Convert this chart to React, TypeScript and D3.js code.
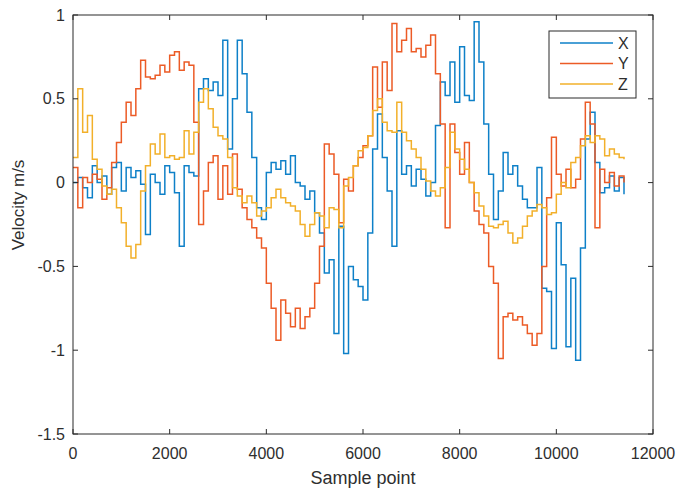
import React from "react";
import * as d3 from "d3";

const STEP = 100;
const xTicks = [0, 2000, 4000, 6000, 8000, 10000, 12000];
const yTicks = [1, 0.5, 0, -0.5, -1, -1.5];
const seriesNames = ["X", "Y", "Z"];
const seriesColors = ["#0E80C8", "#EC5B26", "#F2B02A"];

const xValues = [
  0.0, 0.03, -0.03, -0.09, 0.1, 0.0, 0.04, -0.07, 0.09, 0.12,
  -0.05, 0.09, 0.03, 0.07, -0.01, -0.31, 0.05, 0.0, -0.07, 0.1,
  0.06, -0.06, -0.38, 0.1, 0.06, 0.04, 0.56, 0.62, 0.55, 0.6,
  0.52, 0.85, 0.2, 0.5, 0.85, 0.65, 0.42, 0.15, -0.15, -0.22,
  0.06, 0.12, 0.08, 0.13, 0.05, 0.16, 0.0, -0.02, -0.1, -0.05,
  -0.18, -0.3, -0.54, -0.46, -0.9, -0.26, -1.02, -0.5, -0.58, -0.62,
  -0.7, -0.3, 0.2, 0.41, 0.15, -0.05, -0.38, 0.31, 0.05, 0.1,
  -0.02, 0.08, 0.02, -0.08, 0.0, 0.34, 0.6, 0.52, 0.72, 0.48,
  0.81, 0.52, 0.49, 0.96, 0.72, 0.35, 0.05, -0.22, -0.05, 0.18,
  0.05, 0.1, -0.02, -0.1, -0.15, -0.15, 0.09, -0.63, -0.65, -0.99,
  -0.24, -0.49, -0.98, -0.57, -1.06, -0.39, 0.26, 0.42, 0.12, -0.06,
  -0.03, 0.04, -0.05, 0.03, -0.07,
];

const yValues = [
  0.09, -0.15, 0.03, 0.0, 0.05, 0.02, -0.1, -0.03, 0.12, 0.24,
  0.36, 0.48, 0.4, 0.56, 0.73, 0.63, 0.62, 0.64, 0.7, 0.66,
  0.76, 0.78, 0.67, 0.72, 0.7, 0.36, -0.25, -0.05, 0.12, 0.16,
  -0.1, 0.1, -0.07, 0.17, -0.04, -0.15, -0.22, -0.27, -0.33, -0.39,
  -0.6, -0.75, -0.94, -0.7, -0.78, -0.86, -0.75, -0.87, -0.8, -0.75,
  -0.6, -0.38, 0.23, 0.17, 0.05, -0.24, 0.02, -0.05, 0.1, 0.15,
  0.22, 0.28, 0.69, 0.45, 0.72, 0.55, 0.95, 0.78, 0.85, 0.92,
  0.78, 0.8, 0.75, 0.82, 0.88, 0.65, 0.35, -0.27, 0.35, 0.18,
  0.05, 0.24, 0.0, -0.17, -0.25, -0.3, -0.5, -0.6, -1.05, -0.8,
  -0.78, -0.82, -0.8, -0.85, -0.9, -0.97, -0.9, -0.5, -0.09, 0.27,
  0.05, -0.02, 0.08, -0.03, 0.02, 0.26, 0.48, 0.35, -0.27, 0.08,
  0.0, 0.06, -0.02, 0.04, 0.0,
];

const zValues = [
  0.15, 0.56, 0.3, 0.4, 0.14, 0.08, -0.02, -0.07, -0.04, -0.15,
  -0.24, -0.38, -0.45, -0.37, -0.05, 0.1, 0.23, 0.17, 0.29, 0.15,
  0.16, 0.14, 0.15, 0.31, 0.17, 0.3, 0.48, 0.56, 0.44, 0.33,
  0.28, 0.26, 0.15, -0.03, -0.08, -0.12, -0.08, -0.12, -0.2, -0.17,
  -0.15, -0.09, -0.04, -0.09, -0.12, -0.14, -0.17, -0.25, -0.32, -0.25,
  -0.18, -0.2, -0.27, -0.15, -0.16, -0.27, -0.02, 0.03, 0.1, 0.19,
  0.21, 0.28, 0.43, 0.5, 0.36, 0.31, 0.3, 0.48, 0.3, 0.25,
  0.2, 0.15, 0.08, 0.01, -0.05, -0.08, -0.03, 0.09, 0.3, 0.2,
  0.14, 0.08, 0.0, -0.06, -0.14, -0.2, -0.26, -0.27, -0.25, -0.23,
  -0.3, -0.36, -0.33, -0.26, -0.2, -0.17, -0.13, -0.15, -0.19, -0.18,
  -0.07, 0.0, -0.03, 0.12, 0.15, 0.22, 0.28, 0.24, 0.28, 0.26,
  0.16, 0.2, 0.17, 0.15, 0.14,
];

const allSeries = [xValues, yValues, zValues];

const W = 683;
const H = 499;
const L = 73;
const R = 653;
const T = 15;
const B = 434;
const FONT = "Arial, 'Liberation Sans', Helvetica, sans-serif";
const AXIS = "#2b2b2b";
const TXT = "#2e2e2e";

export default function App() {
  const x = d3.scaleLinear().domain([0, 12000]).range([L, R]);
  const y = d3.scaleLinear().domain([-1.5, 1]).range([B, T]);
  const line = d3
    .line<number>()
    .x((_, i) => x(i * STEP))
    .y((d) => y(d))
    .curve(d3.curveStepAfter);

  return (
    <div style={{ position: "absolute", left: 0, top: 0 }}>
      <svg width={W} height={H} style={{ display: "block", background: "#fff" }}>
        <rect x={0} y={0} width={W} height={H} fill="#fff" />
        <defs>
          <clipPath id="plot">
            <rect x={L} y={T} width={R - L} height={B - T} />
          </clipPath>
        </defs>
        <g clipPath="url(#plot)">
          {allSeries.map((s, k) => (
            <path
              key={k}
              d={line(s) || ""}
              fill="none"
              stroke={seriesColors[k]}
              strokeWidth={1.5}
              strokeLinejoin="miter"
            />
          ))}
        </g>
        <rect x={L} y={T} width={R - L} height={B - T} fill="none" stroke={AXIS} strokeWidth={1} />
        {xTicks.map((t) => (
          <g key={"x" + t}>
            <line x1={x(t)} x2={x(t)} y1={B} y2={B - 5} stroke={AXIS} />
            <line x1={x(t)} x2={x(t)} y1={T} y2={T + 5} stroke={AXIS} />
            <text
              x={x(t)}
              y={453}
              textAnchor="middle"
              dominantBaseline="central"
              fontFamily={FONT}
              fontSize={16}
              fill={TXT}
            >
              {t}
            </text>
          </g>
        ))}
        {yTicks.map((t) => (
          <g key={"y" + t}>
            <line x1={L} x2={L + 5} y1={y(t)} y2={y(t)} stroke={AXIS} />
            <line x1={R} x2={R - 5} y1={y(t)} y2={y(t)} stroke={AXIS} />
            <text
              x={65}
              y={y(t)}
              textAnchor="end"
              dominantBaseline="central"
              fontFamily={FONT}
              fontSize={16}
              fill={TXT}
            >
              {t}
            </text>
          </g>
        ))}
        <text
          x={(L + R) / 2}
          y={484}
          textAnchor="middle"
          fontFamily={FONT}
          fontSize={18}
          fill={TXT}
        >
          Sample point
        </text>
        <text
          transform={`translate(24, 205) rotate(-90)`}
          textAnchor="middle"
          fontFamily={FONT}
          fontSize={17}
          fill={TXT}
        >
          Velocity m/s
        </text>
        <g>
          <rect x={549} y={31} width={87} height={67} fill="#fff" stroke={AXIS} strokeWidth={1} />
          {seriesNames.map((n, k) => (
            <g key={n}>
              <line
                x1={560}
                x2={613}
                y1={43 + k * 20.5}
                y2={43 + k * 20.5}
                stroke={seriesColors[k]}
                strokeWidth={1.5}
              />
              <text
                x={618}
                y={43 + k * 20.5}
                dominantBaseline="central"
                fontFamily={FONT}
                fontSize={16}
                fill={TXT}
              >
                {n}
              </text>
            </g>
          ))}
        </g>
      </svg>
    </div>
  );
}
